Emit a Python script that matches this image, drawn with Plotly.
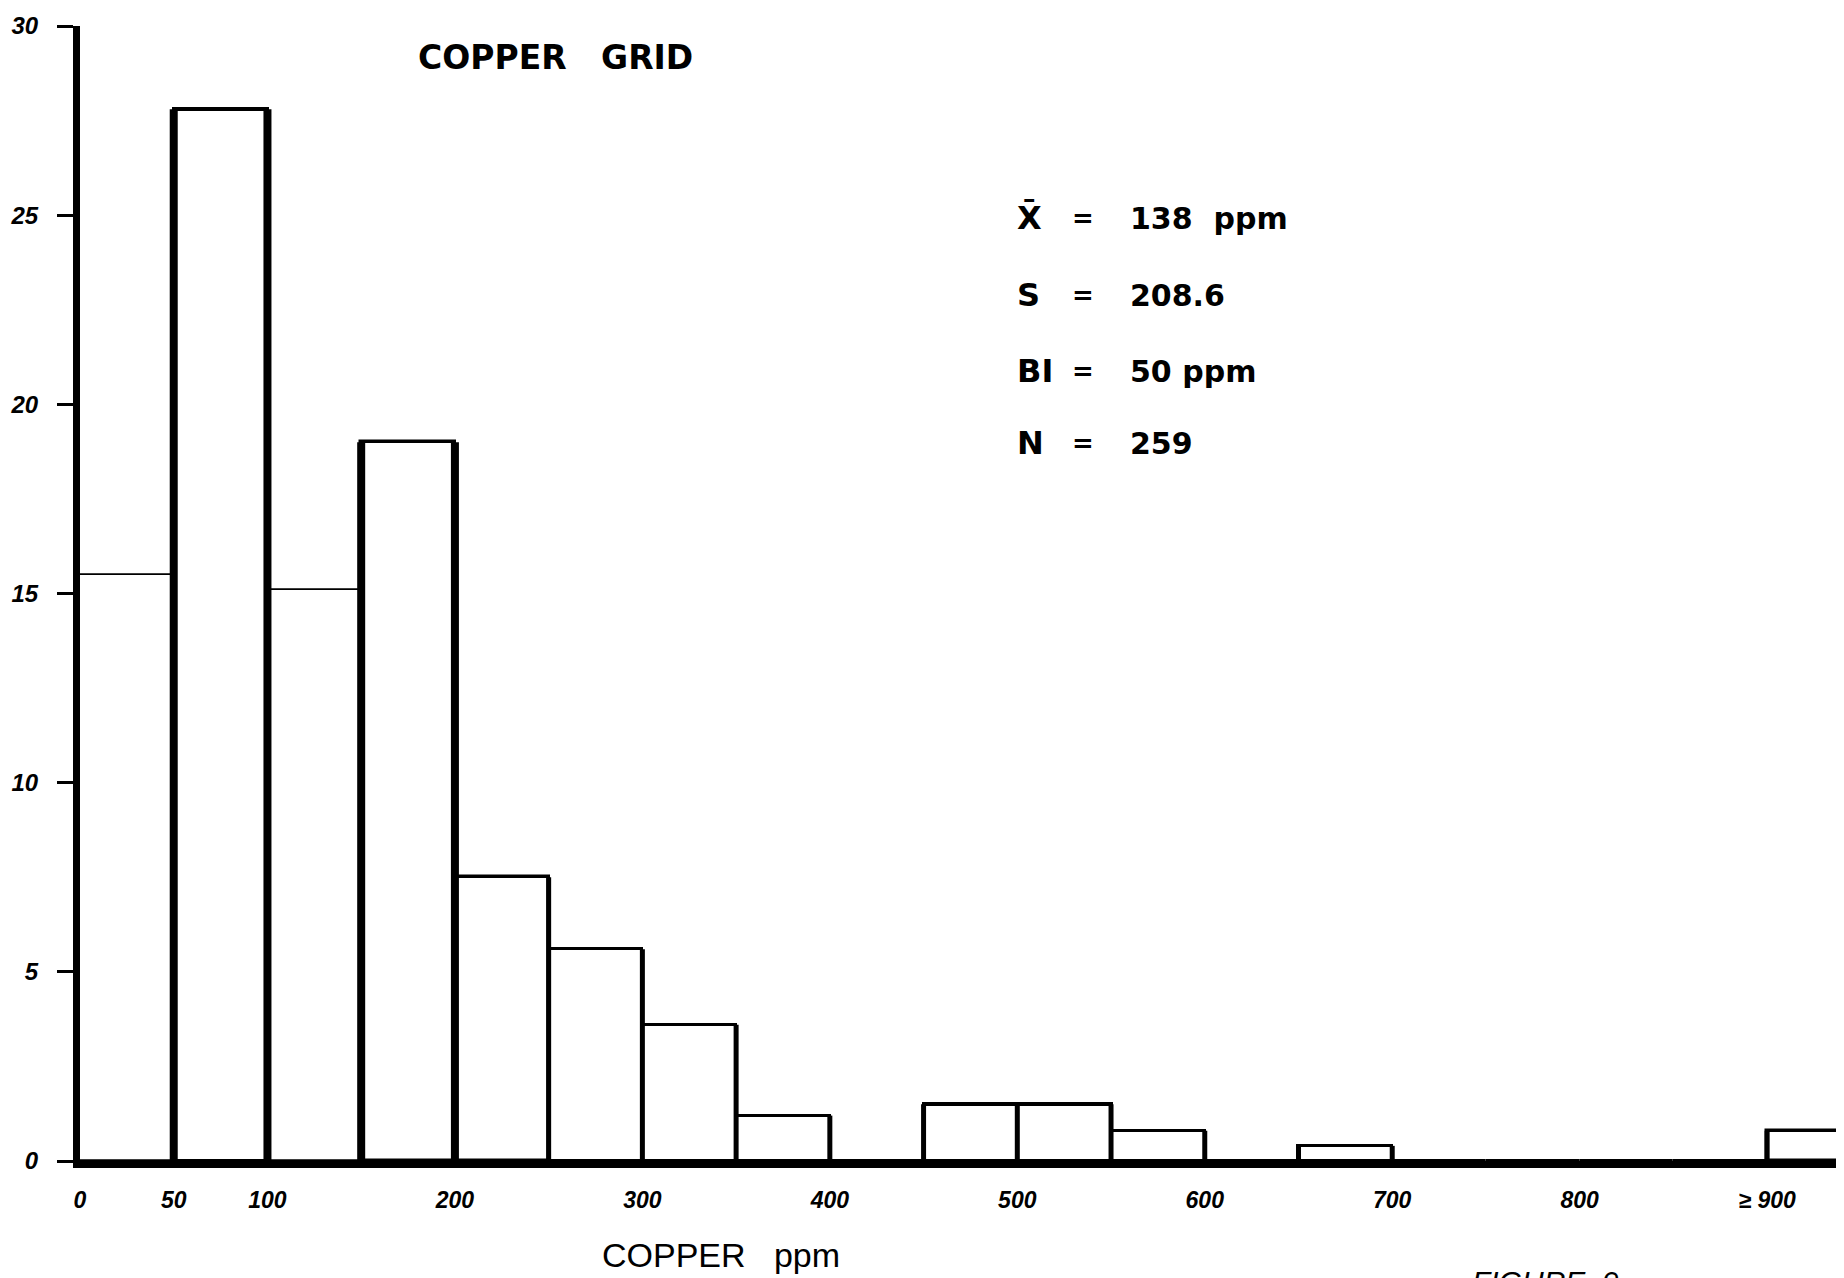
import plotly.graph_objects as go

# ---------------- data ----------------
bin_lo = [0, 50, 100, 150, 200, 250, 300, 350, 400, 450, 500, 550, 600, 650, 700, 750, 800, 850, 900]
bin_width = 50
pct = [15.5, 27.8, 15.1, 19.0, 7.5, 5.6, 3.6, 1.2, 0, 1.5, 1.5, 0.8, 0, 0.4, 0, 0, 0, 0, 0.8]
top_line_w = [1.8, 4, 1.8, 3.5, 3.5, 3, 3, 3, 3, 4, 4, 3, 3, 3, 3, 3, 3, 3, 3.5]

x_tickvals = [0, 50, 100, 200, 300, 400, 500, 600, 700, 800, 900]
x_ticktext = ["0", "50", "100", "200", "300", "400", "500", "600", "700", "800", "\u2265 900"]
y_tickvals = [0, 5, 10, 15, 20, 25, 30]

title_text = "COPPER\u00a0\u00a0\u00a0GRID"
xlabel_text = "COPPER\u00a0\u00a0\u00a0ppm"
stat_labels = ["X\u0304", "S", "BI", "N"]
stat_values = ["138\u00a0\u00a0ppm", "208.6", "50 ppm", "259"]
figure_note = "FIGURE  9"

# ---------------- geometry ----------------
# the page body has an 8px default margin, so the figure is 8px smaller
OFF = 8
W, H = 1844 - OFF, 1278 - OFF
ML, MR, MT, MB = 80 - OFF, 0, 26 - OFF, 117
PW, PH = W - ML - MR, H - MT - MB


def pxx(p):
    # p: page pixel x
    return (p - OFF - ML) / PW


def pxy(p):
    # p: page pixel y
    return (H - MB - (p - OFF)) / PH


centers = [lo + bin_width / 2 for lo in bin_lo]

fig = go.Figure()

# bars (outline only)
fig.add_trace(go.Bar(
    x=centers, y=pct, width=bin_width,
    marker=dict(color="rgba(0,0,0,0)", line=dict(color="black", width=top_line_w)),
    showlegend=False, hoverinfo="skip",
))

# heavy vertical edges between bins, derived from the data
edges = [lo for lo in bin_lo] + [bin_lo[-1] + bin_width]
thick_x, thick_y, med_x, med_y = [], [], [], []
for i, e in enumerate(edges):
    left = pct[i - 1] if i - 1 >= 0 else 0
    right = pct[i] if i < len(pct) else 0
    h = max(left, right)
    if h <= 0 or e == 0:
        continue
    if h > 10:
        thick_x += [e, e, None]
        thick_y += [0, h, None]
    else:
        med_x += [e, e, None]
        med_y += [0, h, None]

fig.add_trace(go.Scatter(x=thick_x, y=thick_y, mode="lines",
                         line=dict(color="black", width=8),
                         showlegend=False, hoverinfo="skip"))
fig.add_trace(go.Scatter(x=med_x, y=med_y, mode="lines",
                         line=dict(color="black", width=5),
                         showlegend=False, hoverinfo="skip"))

tick_font = dict(family="Liberation Sans, Arial, sans-serif", size=23, color="black",
                 style="italic", weight="bold")

fig.update_xaxes(
    range=[0, 941], tickvals=x_tickvals, ticktext=x_ticktext,
    showline=True, linecolor="black", linewidth=7,
    ticks="", showgrid=False, zeroline=False,
    tickfont=tick_font, ticklabelstandoff=12, automargin=False,
)
fig.update_yaxes(
    range=[0, 30], tickvals=y_tickvals,
    showline=True, linecolor="black", linewidth=7,
    ticks="outside", ticklen=16, tickwidth=3, tickcolor="black",
    showgrid=False, zeroline=False,
    tickfont=dict(tick_font, size=24), ticklabelstandoff=14, automargin=False,
)

ann = []
# title
ann.append(dict(text=title_text, x=pxx(555), y=pxy(58), xref="paper", yref="paper",
                xanchor="center", yanchor="middle", showarrow=False,
                font=dict(family="DejaVu Sans, sans-serif", size=33, color="black", weight="bold")))
# statistics block
rows_y = [218, 295, 371, 443]
stat_font = dict(family="DejaVu Sans, sans-serif", size=30, color="black", weight="bold")
for lab, val, ry in zip(stat_labels, stat_values, rows_y):
    ann.append(dict(text=lab, x=pxx(1015), y=pxy(ry), xref="paper", yref="paper",
                    xanchor="left", yanchor="middle", showarrow=False,
                    font=dict(stat_font, size=32)))
    ann.append(dict(text="=", x=pxx(1083), y=pxy(ry), xref="paper", yref="paper",
                    xanchor="center", yanchor="middle", showarrow=False,
                    font=dict(stat_font, size=26)))
    ann.append(dict(text=val, x=pxx(1128), y=pxy(ry), xref="paper", yref="paper",
                    xanchor="left", yanchor="middle", showarrow=False, font=stat_font))
# x axis label
ann.append(dict(text=xlabel_text, x=pxx(721), y=pxy(1255), xref="paper", yref="paper",
                xanchor="center", yanchor="middle", showarrow=False,
                font=dict(family="Liberation Sans, Arial, sans-serif", size=34, color="black")))
# figure caption (cut by page edge, as in the source)
ann.append(dict(text=figure_note, x=pxx(1545), y=pxy(1263), xref="paper", yref="paper",
                xanchor="center", yanchor="top", showarrow=False,
                font=dict(family="Liberation Sans, Arial, sans-serif", size=30, color="black",
                          style="italic")))

fig.update_layout(
    width=W, height=H,
    margin=dict(l=ML, r=MR, t=MT, b=MB, pad=0),
    paper_bgcolor="white", plot_bgcolor="white",
    annotations=ann, bargap=0, showlegend=False,
)

fig.write_html("out.html")
